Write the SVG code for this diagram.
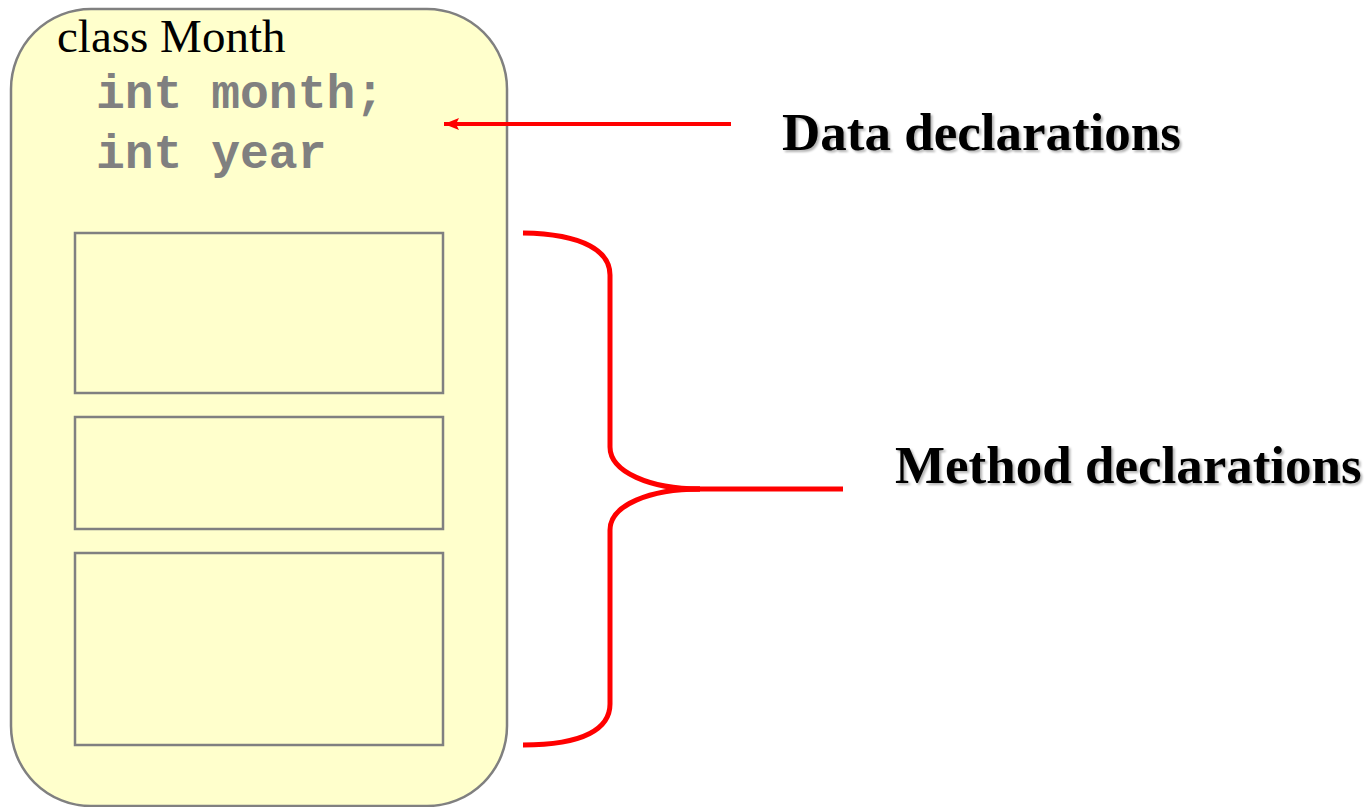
<svg xmlns="http://www.w3.org/2000/svg" width="1369" height="807" viewBox="0 0 1369 807">
<defs>
<style>
.box{fill:#FFFFCC;stroke:#808080;stroke-width:2.5}
.code{font-family:"Liberation Mono",monospace;font-weight:bold;font-size:48px;fill:#808080}
.lbl{font-family:"Liberation Serif",serif;font-weight:bold;font-size:53px;fill:#000;filter:url(#sh)}
.red{fill:none;stroke:#FF0000;stroke-width:5}
</style>
<filter id="sh" x="-5%" y="-20%" width="110%" height="150%">
<feDropShadow dx="2" dy="2" stdDeviation="1" flood-color="#000" flood-opacity="0.3"/>
</filter>
<marker id="ah" markerWidth="16" markerHeight="14" refX="15" refY="7" orient="auto" markerUnits="userSpaceOnUse">
<path d="M15,7 L0,1 L3,7 L0,13 Z" fill="#FF0000"/>
</marker>
</defs>
<g id="class-month">
<rect class="box" x="11" y="9" width="496" height="797" rx="80" ry="80"/>
<text x="57" y="52" font-family="Liberation Serif,serif" font-size="47" fill="#000">class Month</text>
<text class="code" x="96" y="108">int month;</text>
<text class="code" x="96" y="168">int year</text>
</g>
<g id="method1"><rect class="box" x="75" y="233" width="368" height="160"/></g>
<g id="method2"><rect class="box" x="75" y="417" width="368" height="112"/></g>
<g id="method3"><rect class="box" x="75" y="553" width="368" height="192"/></g>
<g id="label-data"><text class="lbl" x="782" y="150">Data declarations</text></g>
<g id="label-method"><text class="lbl" x="895" y="483">Method declarations</text></g>
<g id="connectors">
<path d="M731,124 L444,124" stroke="#FF0000" stroke-width="4" fill="none" marker-end="url(#ah)"/>
<path class="red" d="M523,233 C585,234 610,252 610,275 L610,447 C610,472 650,489 700,489"/>
<path class="red" d="M700,489 C650,489 610,505 610,530 L610,704 C610,728 585,745 523,745"/>
<path class="red" d="M680,489 L843,489"/>
</g>
</svg>
